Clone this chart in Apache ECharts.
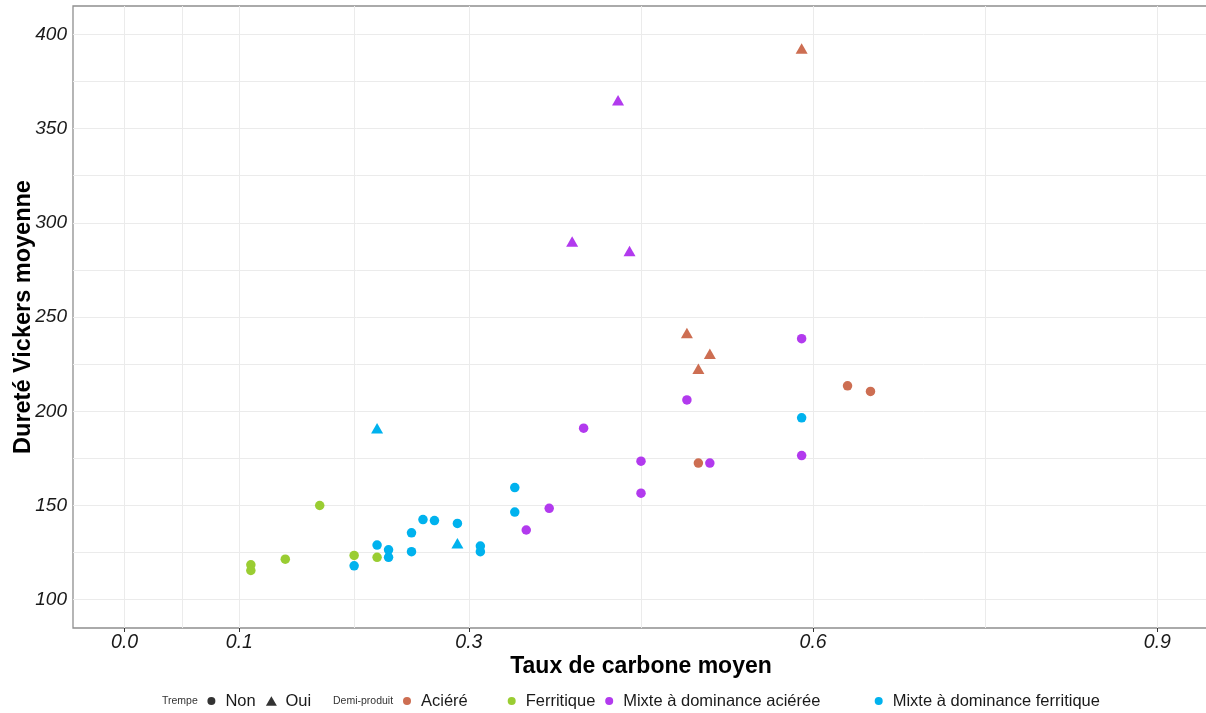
<!DOCTYPE html>
<html>
<head>
<meta charset="utf-8">
<script src="https://cdn.jsdelivr.net/npm/echarts@6/dist/echarts.min.js"></script>
<style>
html,body{margin:0;padding:0;background:#fff;}
#chart{width:1206px;height:713px;}
</style>
</head>
<body>
<div id="chart"></div>
<script>
// ---- data (x = Taux de carbone moyen, y = Dureté Vickers moyenne) ----
const acierNon = [[0.50, 172.5], [0.63, 213.5], [0.65, 210.5]];
const acierOui = [[0.49, 241.5], [0.50, 222.5], [0.51, 230.5], [0.59, 392.5]];
const ferritNon = [[0.11, 118.5], [0.11, 115.5], [0.14, 121.5], [0.17, 150], [0.20, 123.5], [0.22, 122.5]];
const ferritOui = [];
const mixAcierNon = [[0.35, 137], [0.37, 148.5], [0.40, 191], [0.45, 173.5], [0.45, 156.5], [0.49, 206], [0.51, 172.5], [0.59, 238.5], [0.59, 176.5]];
const mixAcierOui = [[0.39, 290], [0.43, 365], [0.44, 285]];
const mixFerritNon = [[0.20, 118], [0.22, 129], [0.23, 126.5], [0.23, 122.5], [0.25, 135.5], [0.25, 125.5], [0.26, 142.5], [0.27, 142], [0.29, 140.5], [0.31, 128.5], [0.31, 125.5], [0.34, 159.5], [0.34, 146.5], [0.59, 196.5]];
const mixFerritOui = [[0.22, 191], [0.29, 130]];

const groupNames = ['Aciéré', 'Ferritique', 'Mixte à dominance aciérée', 'Mixte à dominance ferritique'];
const trempeNames = ['Non', 'Oui'];
const xTickValues = [0, 0.1, 0.3, 0.6, 0.9];
const xMinorGrid = [0.05, 0.2, 0.45, 0.75];
const yTickValues = [100, 150, 200, 250, 300, 350, 400];
const yMinorGrid = [125, 175, 225, 275, 325, 375];

const colors = ['#CD6E52', '#9ACD32', '#B23AEE', '#00B2EE'];
const FONT = "'Liberation Sans', Arial, sans-serif";
const TRI_PATH = 'path://M0,0.866L0.5,0L1,0.866Z';

const groups = [
  [acierNon, acierOui],
  [ferritNon, ferritOui],
  [mixAcierNon, mixAcierOui],
  [mixFerritNon, mixFerritOui]
];

const chart = echarts.init(document.getElementById('chart'), null, {renderer: 'canvas'});

const gridLine = {color: '#ebebeb', width: 1, type: 'solid'};
const markData = []
  .concat(yTickValues.map(v => ({yAxis: v})))
  .concat(yMinorGrid.map(v => ({yAxis: v})))
  .concat(xTickValues.map(v => ({xAxis: v})))
  .concat(xMinorGrid.map(v => ({xAxis: v})));

const series = [{
  type: 'scatter',
  name: '__grid',
  data: [],
  z: 1,
  silent: true,
  markLine: {
    silent: true,
    z: 1,
    symbol: ['none', 'none'],
    label: {show: false},
    lineStyle: gridLine,
    emphasis: {disabled: true},
    animation: false,
    data: markData
  }
}];

groups.forEach((g, i) => {
  const data = g[0].map(p => ({value: p}))
    .concat(g[1].map(p => ({value: p, symbol: 'triangle', symbolSize: [12, 10.5]})));
  series.push({
    type: 'scatter',
    name: groupNames[i],
    data: data,
    symbol: 'circle',
    symbolSize: 9.5,
    itemStyle: {color: colors[i], opacity: 1},
    z: 3
  });
});
series.push({type: 'scatter', name: 'Non', data: [], symbol: 'circle', itemStyle: {color: '#000'}});
series.push({type: 'scatter', name: 'Oui', data: [], symbol: 'triangle', itemStyle: {color: '#000'}});

const legendBase = {
  orient: 'horizontal',
  top: 692.5,
  padding: 0,
  itemWidth: 18,
  itemHeight: 8,
  itemGap: 5,
  symbolKeepAspect: true,
  selectedMode: false,
  textStyle: {fontSize: 16.5, color: '#1a1a1a', fontFamily: FONT}
};
const LSHIFT = 4.7;

const option = {
  animation: false,
  backgroundColor: '#fff',
  grid: {
    left: 73, right: -3, top: 6, bottom: 85,
    outerBoundsMode: 'none',
    containLabel: false,
    show: true, borderColor: '#8f8f8f', borderWidth: 1.3, backgroundColor: '#fff'
  },
  xAxis: {
    type: 'value',
    min: -0.045, max: 0.945,
    name: 'Taux de carbone moyen',
    nameLocation: 'middle',
    nameGap: 27,
    nameMoveOverlap: false,
    nameTextStyle: {fontSize: 23, fontWeight: 'bold', color: '#000', fontFamily: FONT},
    axisLine: {show: false},
    splitLine: {show: false},
    axisTick: {show: true, customValues: xTickValues, length: 4, lineStyle: {color: '#333', width: 1}},
    axisLabel: {
      customValues: xTickValues,
      formatter: v => v.toFixed(1),
      fontSize: 19.5, fontStyle: 'italic', color: '#1a1a1a', fontFamily: FONT, margin: 4.5
    }
  },
  yAxis: {
    type: 'value',
    min: 85, max: 415,
    name: 'Dureté Vickers moyenne',
    nameLocation: 'middle',
    nameGap: 37,
    nameMoveOverlap: false,
    nameTextStyle: {fontSize: 23.5, fontWeight: 'bold', color: '#000', fontFamily: FONT},
    axisLine: {show: false},
    splitLine: {show: false},
    axisTick: {show: true, customValues: yTickValues, length: 4, lineStyle: {color: '#333', width: 1}},
    axisLabel: {
      customValues: yTickValues,
      fontSize: 19, fontStyle: 'italic', color: '#1a1a1a', fontFamily: FONT, margin: 6
    }
  },
  legend: [
    Object.assign({}, legendBase, {data: [trempeNames[0]], left: 202.7 + LSHIFT}),
    Object.assign({}, legendBase, {data: [{name: trempeNames[1], icon: TRI_PATH}], left: 262.7 + LSHIFT - 1.5, itemHeight: 9.5}),
    Object.assign({}, legendBase, {data: [groupNames[0]], left: 398.3 + LSHIFT}),
    Object.assign({}, legendBase, {data: [groupNames[1]], left: 503 + LSHIFT}),
    Object.assign({}, legendBase, {data: [groupNames[2]], left: 600.5 + LSHIFT}),
    Object.assign({}, legendBase, {data: [groupNames[3]], left: 871 + LSHIFT - 1}),
  ],
  graphic: [
    {type: 'text', x: 162, y: 701, silent: true,
     style: {text: 'Trempe', fontSize: 10.5, fontFamily: FONT, fill: '#333', verticalAlign: 'middle'}},
    {type: 'text', x: 333, y: 701, silent: true,
     style: {text: 'Demi-produit', fontSize: 10.5, fontFamily: FONT, fill: '#333', verticalAlign: 'middle'}}
  ],
  series: series
};

chart.setOption(option);
</script>
</body>
</html>
